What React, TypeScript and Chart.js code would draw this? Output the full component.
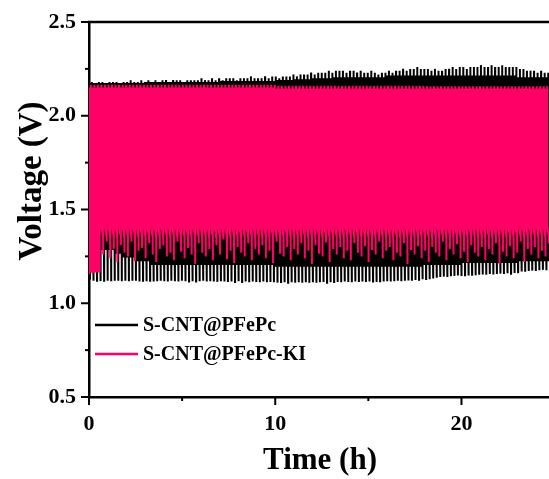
import React, { useEffect, useRef } from "react";
import { Chart, registerables } from "chart.js";

Chart.register(...registerables);

// ---- data ----
const CYCLE_HOURS = 0.19; // one charge/discharge cycle
const BLACK_PHASE_HOURS = 0.05; // black cell's cycles start slightly later
const X_MAX = 24.7;
const X_MAJOR = [0, 10, 20];
const X_MINOR = [5, 15];
const Y_MAJOR = [0.5, 1.0, 1.5, 2.0, 2.5];
const Y_MINOR = [0.75, 1.25, 1.75, 2.25];
const SERIES_NAMES = ["S-CNT@PFePc", "S-CNT@PFePc-KI"];
const SERIES_COLORS = ["#000000", "#ff0066"];
const X_TITLE = "Time (h)";
const Y_TITLE = "Voltage (V)";

// S-CNT@PFePc: end-of-charge peak voltage, per cycle
const BLACK_PEAK = [
  2.18, 2.17, 2.18, 2.18, 2.17, 2.18, 2.18, 2.18, 2.17, 2.18,
  2.18, 2.19, 2.18, 2.18, 2.19, 2.18, 2.19, 2.18, 2.19, 2.18,
  2.19, 2.19, 2.18, 2.19, 2.19, 2.19, 2.18, 2.19, 2.19, 2.19,
  2.19, 2.2, 2.19, 2.19, 2.2, 2.19, 2.2, 2.19, 2.2, 2.2,
  2.2, 2.19, 2.2, 2.2, 2.2, 2.21, 2.2, 2.2, 2.2, 2.21,
  2.2, 2.21, 2.21, 2.2, 2.21, 2.21, 2.21, 2.22, 2.21, 2.22,
  2.22, 2.22, 2.23, 2.22, 2.23, 2.23, 2.23, 2.24, 2.23, 2.24,
  2.24, 2.24, 2.23, 2.24, 2.24, 2.23, 2.24, 2.23, 2.23, 2.24,
  2.23, 2.22, 2.23, 2.23, 2.24, 2.23, 2.24, 2.24, 2.25, 2.24,
  2.25, 2.25, 2.26, 2.25, 2.25, 2.25, 2.24, 2.25, 2.24, 2.24,
  2.25, 2.25, 2.26, 2.25, 2.26, 2.26, 2.25, 2.26, 2.26, 2.26,
  2.27, 2.26, 2.26, 2.27, 2.26, 2.26, 2.27, 2.26, 2.26, 2.26,
  2.26, 2.25, 2.25, 2.24, 2.24, 2.24, 2.23, 2.24, 2.23, 2.23, 2.23,
];
// S-CNT@PFePc: end-of-discharge trough voltage, per cycle
const BLACK_TROUGH = [
  1.125, 1.12, 1.12, 1.118, 1.12, 1.12, 1.118, 1.12, 1.12, 1.118,
  1.12, 1.118, 1.12, 1.12, 1.116, 1.12, 1.118, 1.12, 1.116, 1.118,
  1.12, 1.118, 1.116, 1.12, 1.118, 1.116, 1.12, 1.118, 1.116, 1.118,
  1.116, 1.118, 1.12, 1.116, 1.118, 1.116, 1.114, 1.118, 1.116, 1.114,
  1.116, 1.114, 1.118, 1.114, 1.116, 1.112, 1.116, 1.114, 1.112, 1.116,
  1.112, 1.114, 1.112, 1.11, 1.114, 1.112, 1.11, 1.112, 1.11, 1.112,
  1.11, 1.112, 1.11, 1.112, 1.11, 1.112, 1.114, 1.11, 1.112, 1.114,
  1.114, 1.112, 1.116, 1.114, 1.112, 1.116, 1.114, 1.116, 1.114, 1.116,
  1.116, 1.114, 1.118, 1.116, 1.118, 1.116, 1.118, 1.12, 1.118, 1.12,
  1.122, 1.12, 1.124, 1.126, 1.128, 1.13, 1.128, 1.132, 1.136, 1.14,
  1.142, 1.14, 1.144, 1.146, 1.148, 1.146, 1.15, 1.148, 1.152, 1.15,
  1.152, 1.154, 1.152, 1.156, 1.154, 1.156, 1.158, 1.156, 1.16, 1.158,
  1.162, 1.166, 1.17, 1.168, 1.172, 1.174, 1.172, 1.176, 1.178, 1.176, 1.18,
];
// S-CNT@PFePc plateaus (level from each start hour on)
const BLACK_CHARGE_PLATEAU_T = [0, 3, 7, 10, 11, 12, 13, 16, 23];
const BLACK_CHARGE_PLATEAU_V = [2.17, 2.175, 2.18, 2.185, 2.19, 2.195, 2.2, 2.21, 2.2];
const BLACK_DISCHARGE_PLATEAU_T = [0, 0.7, 1.3, 1.8, 2.5, 3.2, 10, 18, 20, 23];
const BLACK_DISCHARGE_PLATEAU_V = [1.18, 1.29, 1.27, 1.25, 1.23, 1.21, 1.2, 1.21, 1.22, 1.23];

// S-CNT@PFePc-KI: end-of-discharge trough voltage, per cycle
const PINK_TROUGH = [
  1.16, 1.16, 1.17,
  1.30, 1.26, 1.33, 1.24, 1.29, 1.22, 1.31, 1.27, 1.25, 1.33,
  1.23, 1.28, 1.30, 1.24, 1.32, 1.26, 1.22, 1.29, 1.31, 1.25,
  1.27, 1.23, 1.33, 1.28, 1.24, 1.30, 1.26, 1.21, 1.32, 1.27,
  1.25, 1.29, 1.23, 1.31, 1.26, 1.34, 1.24, 1.28, 1.22, 1.30,
  1.27, 1.25, 1.32, 1.23, 1.29, 1.26, 1.31, 1.24, 1.28, 1.22,
  1.33, 1.27, 1.25, 1.30, 1.23, 1.29, 1.26, 1.32, 1.24, 1.28,
  1.21, 1.31, 1.27, 1.25, 1.33, 1.22, 1.29, 1.26, 1.30, 1.24,
  1.28, 1.23, 1.32, 1.27, 1.25, 1.31, 1.22, 1.29, 1.26, 1.33,
  1.24, 1.28, 1.30, 1.23, 1.27, 1.25, 1.32, 1.21, 1.29, 1.26,
  1.31, 1.24, 1.28, 1.22, 1.30, 1.27, 1.25, 1.33, 1.23, 1.29,
  1.26, 1.32, 1.24, 1.28, 1.22, 1.31, 1.27, 1.25, 1.30, 1.23,
  1.29, 1.26, 1.32, 1.21, 1.28, 1.25, 1.31, 1.24, 1.27, 1.33,
  1.22, 1.29, 1.26, 1.30, 1.24, 1.28, 1.25, 1.32,
];
// S-CNT@PFePc-KI peak and plateaus (level from each start hour on)
const PINK_PEAK_T = [0, 10, 18];
const PINK_PEAK_V = [2.165, 2.16, 2.157];
const PINK_CHARGE_PLATEAU_T = [0, 10, 18];
const PINK_CHARGE_PLATEAU_V = [2.145, 2.14, 2.14];
const PINK_DISCHARGE_PLATEAU_T = [0, 0.6];
const PINK_DISCHARGE_PLATEAU_V = [1.17, 1.35];
const PINK_DISCHARGE_START_T = [0, 0.6];
const PINK_DISCHARGE_START_V = [1.17, 1.41];

// ---- helpers ----
function stepAt(ts: number[], vs: number[], t: number): number {
  let v = vs[0];
  for (let k = 0; k < ts.length; k++) if (t >= ts[k]) v = vs[k];
  return v;
}

function buildCycles(
  phase: number,
  peakAt: (i: number, t: number) => number,
  troughs: number[],
  chT: number[], chV: number[],
  dchT: number[], dchV: number[],
  dStartT?: number[], dStartV?: number[]
) {
  const pts: { x: number; y: number }[] = [];
  const d = CYCLE_HOURS * 0.03;
  const half = CYCLE_HOURS / 2;
  for (let i = 0; i < troughs.length; i++) {
    const t0 = phase + i * CYCLE_HOURS;
    const tm = t0 + half;
    const hp = stepAt(chT, chV, t0);
    const lp = stepAt(dchT, dchV, tm);
    const ls = dStartT && dStartV ? stepAt(dStartT, dStartV, tm) : lp;
    pts.push({ x: t0, y: troughs[i] });
    pts.push({ x: t0 + d, y: hp });
    pts.push({ x: tm - d, y: hp });
    pts.push({ x: tm, y: peakAt(i, tm) });
    pts.push({ x: tm + d, y: ls });
    pts.push({ x: t0 + CYCLE_HOURS - d, y: lp });
  }
  return pts;
}

const FONT = "'Liberation Serif', 'Times New Roman', serif";

export default function App() {
  const ref = useRef<HTMLCanvasElement>(null);

  useEffect(() => {
    document.body.style.margin = "0";
    const canvas = ref.current!;

    const blackData = buildCycles(
      BLACK_PHASE_HOURS,
      (i) => BLACK_PEAK[i],
      BLACK_TROUGH,
      BLACK_CHARGE_PLATEAU_T, BLACK_CHARGE_PLATEAU_V,
      BLACK_DISCHARGE_PLATEAU_T, BLACK_DISCHARGE_PLATEAU_V
    );
    const pinkData = buildCycles(
      0,
      (_i, t) => stepAt(PINK_PEAK_T, PINK_PEAK_V, t),
      PINK_TROUGH,
      PINK_CHARGE_PLATEAU_T, PINK_CHARGE_PLATEAU_V,
      PINK_DISCHARGE_PLATEAU_T, PINK_DISCHARGE_PLATEAU_V,
      PINK_DISCHARGE_START_T, PINK_DISCHARGE_START_V
    );

    const decor = {
      id: "decor",
      afterDraw(chart: any) {
        const ctx = chart.ctx as CanvasRenderingContext2D;
        const area = chart.chartArea;
        const xs = chart.scales.x;
        const ys = chart.scales.y;
        ctx.save();
        ctx.strokeStyle = "#000";
        ctx.fillStyle = "#000";
        // top frame line
        ctx.lineWidth = 2.5;
        ctx.beginPath();
        ctx.moveTo(area.left - 1.25, area.top);
        ctx.lineTo(area.right, area.top);
        ctx.stroke();
        // ticks
        ctx.lineWidth = 2;
        const tick = (x1: number, y1: number, x2: number, y2: number) => {
          ctx.beginPath();
          ctx.moveTo(x1, y1);
          ctx.lineTo(x2, y2);
          ctx.stroke();
        };
        X_MAJOR.forEach((v) => {
          const x = xs.getPixelForValue(v);
          tick(x, area.bottom, x, area.bottom + 8);
        });
        X_MINOR.forEach((v) => {
          const x = xs.getPixelForValue(v);
          tick(x, area.bottom, x, area.bottom + 4);
        });
        Y_MAJOR.forEach((v) => {
          const y = ys.getPixelForValue(v);
          tick(area.left, y, area.left - 8, y);
        });
        Y_MINOR.forEach((v) => {
          const y = ys.getPixelForValue(v);
          tick(area.left, y, area.left - 4, y);
        });
        // axis titles
        ctx.font = `bold 31px ${FONT}`;
        ctx.textAlign = "center";
        ctx.textBaseline = "alphabetic";
        ctx.fillText(X_TITLE, 320, 469);
        ctx.font = `bold 33px ${FONT}`;
        ctx.save();
        ctx.translate(41, 181);
        ctx.rotate(-Math.PI / 2);
        ctx.fillText(Y_TITLE, 0, 0);
        ctx.restore();
        // legend
        const rows = [325, 354];
        ctx.font = `bold 20px ${FONT}`;
        ctx.textAlign = "left";
        ctx.textBaseline = "middle";
        rows.forEach((y, k) => {
          ctx.strokeStyle = SERIES_COLORS[k];
          ctx.lineWidth = 2.5;
          tick(95, y, 138, y);
          ctx.fillStyle = "#000";
          ctx.fillText(SERIES_NAMES[k], 143, y + 1);
        });
        ctx.restore();
      },
    };

    const chart = new Chart(canvas, {
      type: "line",
      data: {
        datasets: [
          {
            label: SERIES_NAMES[1],
            data: pinkData,
            borderColor: SERIES_COLORS[1],
            borderWidth: 2,
            pointRadius: 0,
            tension: 0,
            order: 0,
          },
          {
            label: SERIES_NAMES[0],
            data: blackData,
            borderColor: SERIES_COLORS[0],
            borderWidth: 2,
            pointRadius: 0,
            tension: 0,
            order: 1,
          },
        ],
      },
      options: {
        animation: false,
        responsive: false,
        devicePixelRatio: 1,
        events: [],
        layout: { padding: { top: 22, right: 0, left: 0, bottom: 0 } },
        plugins: { legend: { display: false }, tooltip: { enabled: false } },
        scales: {
          x: {
            type: "linear",
            min: 0,
            max: X_MAX,
            grid: { display: false },
            border: { display: true, color: "#000", width: 2.5 },
            afterBuildTicks: (s: any) => {
              s.ticks = X_MAJOR.map((v) => ({ value: v }));
            },
            afterFit: (s: any) => {
              s.height = 82;
            },
            ticks: {
              color: "#000",
              padding: 6,
              maxRotation: 0,
              font: { family: FONT, size: 22, weight: "bold" },
              callback: (v: any) => String(v),
            },
          },
          y: {
            type: "linear",
            min: 0.5,
            max: 2.5,
            grid: { display: false },
            border: { display: true, color: "#000", width: 2.5 },
            afterBuildTicks: (s: any) => {
              s.ticks = Y_MAJOR.map((v) => ({ value: v }));
            },
            afterFit: (s: any) => {
              s.width = 89;
            },
            ticks: {
              color: "#000",
              padding: 5,
              font: { family: FONT, size: 22, weight: "bold" },
              callback: (v: any) => Number(v).toFixed(1),
            },
          },
        },
      },
      plugins: [decor],
    } as any);

    return () => chart.destroy();
  }, []);

  return (
    <div style={{ position: "absolute", left: 0, top: 0, width: 549, height: 479, background: "#fff" }}>
      <canvas ref={ref} width={549} height={479} style={{ display: "block" }} />
    </div>
  );
}
